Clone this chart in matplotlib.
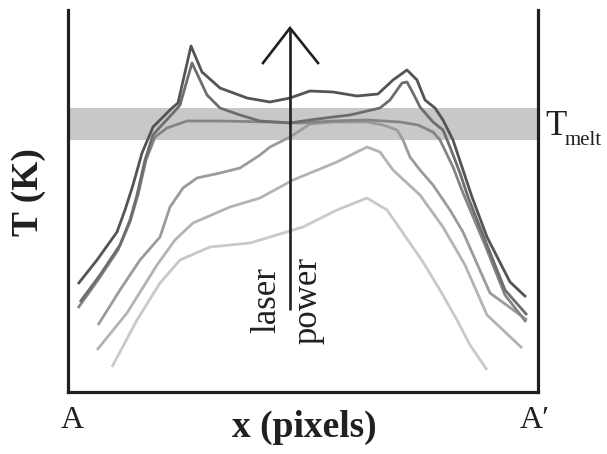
import matplotlib
matplotlib.use("Agg")
import matplotlib.pyplot as plt

plt.rcParams['font.family'] = ['Liberation Serif', 'DejaVu Serif']

# temperature profiles along the line A-A', x in pixels from A, T in arbitrary units
x1 = [10, 29, 49, 57, 65, 74, 85, 104, 110, 123, 134, 152, 179, 202, 222, 242, 265, 289, 310,
      325, 339, 349, 357, 367, 375, 385, 395, 404, 419, 442, 458]
t1 = [108, 132, 160, 182, 207, 239, 265, 284, 289, 346, 320, 304, 294, 290, 294, 301, 300, 296, 298,
      312, 322, 312, 292, 284, 272, 252, 222, 195, 155, 110, 95]

x2 = [12, 32, 52, 62, 69, 77, 85, 92, 106, 112, 124, 132, 139, 152, 172, 192, 222, 242, 265, 282,
      312, 322, 334, 339, 345, 352, 365, 375, 382, 392, 400, 419, 437, 459]
t2 = [90, 117, 147, 172, 197, 232, 257, 265, 280, 287, 329, 312, 297, 284, 277, 271, 269, 272, 275, 277,
      284, 292, 309, 310, 299, 285, 270, 262, 245, 219, 195, 147, 102, 77]

x3 = [10, 30, 50, 62, 70, 78, 87, 99, 119, 152, 202, 232, 265, 299, 332, 350, 365, 372, 385, 395,
      417, 437, 458]
t3 = [84, 112, 142, 170, 197, 232, 255, 264, 271, 271, 270, 269, 271, 272, 270, 267, 260, 252, 225, 199,
      147, 97, 70]

x4 = [30, 52, 72, 92, 102, 115, 129, 152, 172, 192, 202, 222, 242, 265, 299, 315, 329, 335, 342, 352,
      365, 382, 395, 422, 459]
t4 = [67, 102, 132, 155, 185, 204, 214, 219, 224, 237, 245, 255, 268, 270, 270, 267, 262, 252, 235, 222,
      207, 182, 160, 99, 72]

x5 = [29, 59, 89, 107, 125, 162, 192, 225, 269, 299, 312, 325, 352, 375, 397, 419, 454]
t5 = [42, 79, 127, 152, 169, 185, 194, 212, 230, 245, 240, 222, 197, 165, 127, 77, 44]

x6 = [44, 69, 92, 112, 142, 182, 202, 235, 269, 299, 319, 335, 355, 372, 389, 402, 419]
t6 = [25, 72, 109, 132, 145, 149, 155, 165, 182, 194, 182, 159, 130, 102, 72, 47, 22]

profiles = [(x6, t6), (x5, t5), (x4, t4), (x3, t3), (x2, t2), (x1, t1)]
greys = ['#c9c9c9', '#b3b3b3', '#9b9b9b', '#858585', '#6d6d6d', '#545454']

melt_low, melt_high = 252, 284

fig = plt.figure(figsize=(6.07, 4.54), dpi=100)
ax = fig.add_axes([68 / 607, 62 / 454, 470 / 607, 382 / 454])
ax.set_xlim(0, 470)
ax.set_ylim(0, 382)

ax.axhspan(melt_low, melt_high, color='#c8c8c9', lw=0, zorder=0)

for (xs, ts), c in zip(profiles, greys):
    ax.plot(xs, ts, color=c, lw=2.0, solid_joinstyle='round', solid_capstyle='butt')

# laser power arrow
ax.plot([222, 222], [82, 364], color='#231f20', lw=1.9, solid_capstyle='butt')
ax.plot([195, 222, 250], [329, 364, 329], color='#231f20', lw=1.9, solid_joinstyle='miter')
ax.text(199, 92, 'laser', rotation=90, ha='center', va='center', fontsize=25, color='#231f20')
ax.text(240, 92, 'power', rotation=90, ha='center', va='center', fontsize=25, color='#231f20')

# melting temperature label
ax.text(477, 257, 'T', fontsize=25, ha='left', va='baseline', color='#231f20')
ax.text(497, 247, 'melt', fontsize=15, ha='left', va='baseline', color='#231f20')

for side in ['left', 'right', 'bottom']:
    ax.spines[side].set_linewidth(2.3)
    ax.spines[side].set_color('#231f20')
    ax.spines[side].set_capstyle('projecting')
ax.spines['top'].set_visible(False)
ax.set_xticks([])
ax.set_yticks([])

fig.text(72 / 607, (454 - 421) / 454, 'A', fontsize=23, ha='center', va='center', color='#231f20')
fig.text(535 / 607, (454 - 421) / 454, 'A\u2032', fontsize=23, ha='center', va='center', color='#231f20')
fig.text(304 / 607, (454 - 437) / 454, 'x (pixels)', fontsize=27, fontweight='bold',
         ha='center', va='baseline', color='#231f20')
fig.text(28 / 607, (454 - 192) / 454, 'T (K)', fontsize=27, fontweight='bold', rotation=90,
         ha='center', va='center', color='#231f20')

fig.savefig('out.png', dpi=100)
